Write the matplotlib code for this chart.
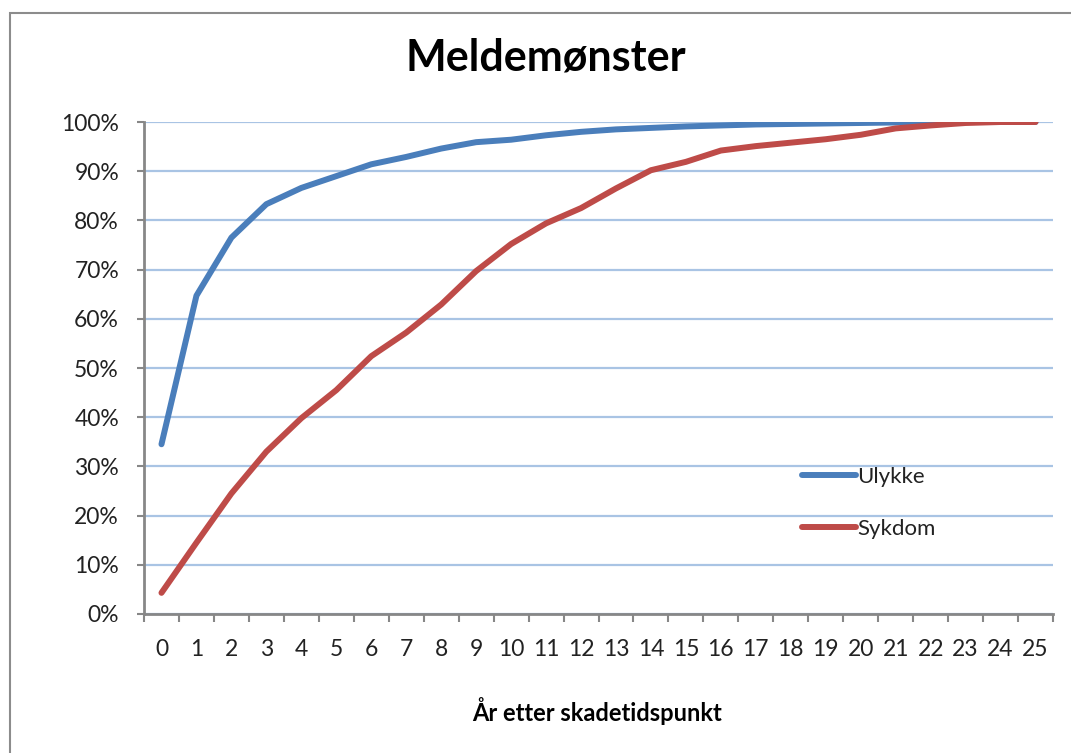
import matplotlib
matplotlib.use("Agg")
import matplotlib.pyplot as plt
from matplotlib.patches import Rectangle
from matplotlib.ticker import FixedLocator, PercentFormatter

plt.rcParams['font.family'] = ['Lato', 'DejaVu Sans']

years = list(range(26))
ulykke = [34.5, 64.7, 76.5, 83.3, 86.6, 89.0, 91.4, 92.9, 94.6, 95.9,
          96.4, 97.3, 98.0, 98.5, 98.8, 99.1, 99.3, 99.5, 99.6, 99.7,
          99.8, 99.9, 100, 100, 100, 100]
sykdom = [4.3, 14.5, 24.5, 33.0, 39.8, 45.5, 52.4, 57.2, 62.9, 69.7,
          75.2, 79.4, 82.5, 86.5, 90.2, 91.9, 94.2, 95.1, 95.8, 96.5,
          97.4, 98.7, 99.3, 99.8, 100, 100]
y_ticks = list(range(0, 101, 10))

W, H = 1071, 753
fig = plt.figure(figsize=(W / 100, H / 100), dpi=100)
ax = fig.add_axes([144 / W, 1 - 614 / H, (1053 - 144) / W, (614 - 122) / H])

blue = '#4A7EBB'
red = '#BE4B48'
axis_col = '#878787'

ax.plot(years, ulykke, color=blue, lw=4.3, solid_capstyle='round',
        solid_joinstyle='round', label='Ulykke', zorder=3)
ax.plot(years, sykdom, color=red, lw=4.3, solid_capstyle='round',
        solid_joinstyle='round', label='Sykdom', zorder=3)

ax.set_xlim(-0.5, 25.5)
ax.set_ylim(0, 100)

# category axis: ticks between categories, labels on the categories
ax.xaxis.set_major_locator(FixedLocator([i - 0.5 for i in range(27)]))
ax.xaxis.set_minor_locator(FixedLocator(years))
ax.set_xticklabels([])
ax.set_xticklabels([str(y) for y in years], minor=True)
ax.tick_params(axis='x', which='major', length=6, width=1.5, color=axis_col, direction='out')
ax.tick_params(axis='x', which='minor', length=0, pad=18, labelsize=16.5, labelcolor='#222222')

ax.set_yticks(y_ticks)
ax.yaxis.set_major_formatter(PercentFormatter(decimals=0))
ax.tick_params(axis='y', length=5, width=1.5, color=axis_col, direction='out',
               pad=13, labelsize=16.5, labelcolor='#222222')

ax.grid(axis='y', color='#A9C4E4', lw=1.6, zorder=1)
ax.set_axisbelow(True)
for side in ['top', 'right']:
    ax.spines[side].set_visible(False)
for side in ['left', 'bottom']:
    ax.spines[side].set_color(axis_col)
    ax.spines[side].set_linewidth(2)

ax.legend(loc='upper left', bbox_to_anchor=(802 / W, 1 - 467 / H),
          bbox_transform=fig.transFigure, frameon=False, borderpad=0,
          borderaxespad=0, handlelength=2.45, handletextpad=0.05,
          labelspacing=1.45, prop={'size': 16}, labelcolor='#222222')

fig.text(546 / W, 1 - 58 / H, 'Meldemønster', ha='center', va='center',
         fontsize=31, fontweight='bold')
fig.text(597 / W, 1 - 711 / H, 'År etter skadetidspunkt', ha='center', va='center',
         fontsize=17, fontweight='bold')

# outer chart border
fig.patches.append(Rectangle((10 / W, -0.1), 1.2, 1.1 - 13 / H, transform=fig.transFigure,
                             fill=False, edgecolor='#8C8C8C', lw=1.5, clip_on=False))

fig.savefig('out.png', dpi=100)
